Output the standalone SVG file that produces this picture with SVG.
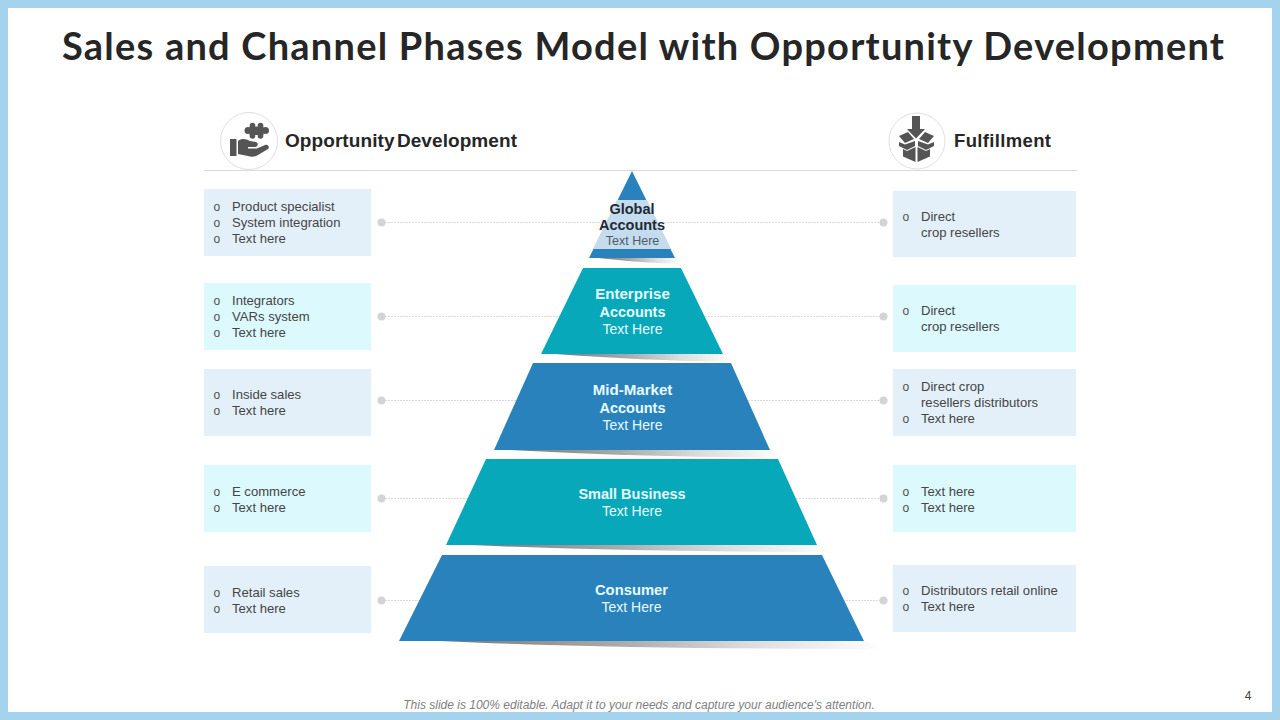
<svg xmlns="http://www.w3.org/2000/svg" width="1280" height="720" viewBox="0 0 1280 720">
<style>
text{font-family:"Liberation Sans",Arial,sans-serif}
.t{font-size:13.1px;fill:#454545}
.o{font-size:12px;fill:#505050}
.n{font-size:14.5px;font-weight:bold;fill:#e6fbff;text-anchor:middle}
.w{font-size:15.1px}
.s{font-size:14px;fill:#e6fbff;text-anchor:middle}
.h{font-size:18.5px;font-weight:bold;fill:#262626}
.c{stroke:#d9d9d9;stroke-width:1;stroke-dasharray:2 1;fill:none}
.d{fill:#d4d4d4}
.blue{fill:#e3f0f9}.cyan{fill:#dcf9fe}
.ic{fill:#555}
.ring{fill:#fff;stroke:#e0e0e0;stroke-width:1}
.sh{fill:url(#sh)}
</style>
<defs>
<linearGradient id="sh" x1="0" x2="1" y1="0" y2="0">
<stop offset="0" stop-color="#777"/><stop offset=".4" stop-color="#aaa"/><stop offset=".7" stop-color="#ddd"/><stop offset="1" stop-color="#fff"/>
</linearGradient>
</defs>
<rect width="1280" height="720" fill="#fff"/>
<rect x="4" y="4" width="1272" height="712" fill="none" stroke="#a5d2ec" stroke-width="8"/>
<text id="title" x="62" y="60" style="font-family:Lato,sans-serif;font-size:38px;font-weight:700;fill:#262626" textLength="1162">Sales and Channel Phases Model with Opportunity Development</text>
<line x1="204" y1="170.500" x2="1077" y2="170.500" stroke="#d9d9d9"/>
<g id="connectors">
<path class="c" d="M382 222.500H600M664 222.500H884M382 316.500H560M705 316.500H884M382 400.500H520M745 400.500H884M382 498.500H475M790 498.500H884M382 600.500H425M840 600.500H884"/>
<g class="d"><circle cx="381.500" cy="222.500" r="4"/><circle cx="883.500" cy="222.500" r="4"/><circle cx="381.500" cy="316.500" r="4"/><circle cx="883.500" cy="316.500" r="4"/><circle cx="381.500" cy="400.500" r="4"/><circle cx="883.500" cy="400.500" r="4"/><circle cx="381.500" cy="498.500" r="4"/><circle cx="883.500" cy="498.500" r="4"/><circle cx="381.500" cy="600.500" r="4"/><circle cx="883.500" cy="600.500" r="4"/></g>
</g>
<g id="head-left">
<circle class="ring" cx="249" cy="141" r="28.500"/>
<g class="ic">
<rect x="230" y="139" width="6.500" height="17"/>
<path d="M238 141C242 138 246 139 250 141L256 142C259 143 258 147 255 147L248 147V148.500L257 148.500L265 145C268 144 270 147 268 149L258 155C255 157 251 157 248 156L238 154Z"/>
<rect x="249.500" y="126.500" width="14" height="8.500"/>
<circle cx="248" cy="130.500" r="3.500"/><circle cx="265.500" cy="130.500" r="3.500"/><circle cx="252.500" cy="125.500" r="2.800"/><circle cx="260.500" cy="125.500" r="2.800"/><circle cx="252.500" cy="136" r="2.800"/><circle cx="260.500" cy="136" r="2.800"/>
</g>
<text class="h" x="285" y="147" textLength="232" style="word-spacing:-3px;font-size:19px">Opportunity Development</text>
</g>
<g id="head-right">
<circle class="ring" cx="917" cy="141" r="28"/>
<path class="ic" d="M912 116h8v13h5l-9 9.500-9-9.500h5zM899 136L908 132L914 139L905 143zM934 136L925 132L919 139L928 143zM899 142L905 144.500L915 141V146L907 150L899 146zM934 142L928 144.500L918 141V146L926 150L934 146zM903 149L907 151L915.500 147V162L903 156.500zM930 149L926 151L917.500 147V162L930 156.500z"/>
<text class="h" x="954" y="147" textLength="97">Fulfillment</text>
</g>
<g id="pyramid">
<g id="tier-global">
<path d="M632 171L675 258H589Z" fill="#2a82bd"/>
<path d="M617 200H647L671 249H593Z" fill="#c4dcee"/>
<path d="M598 258H675L680 264C650 263 625 261 598 258Z" class="sh"/>
<text class="n" x="632" y="214" style="fill:#1f2a36">Global</text>
<text class="n" x="632" y="230" style="fill:#1f2a36">Accounts</text>
<text class="s" x="632.500" y="245" style="font-size:12.500px;fill:#505a66">Text Here</text>
</g>
<g id="tier-enterprise">
<path d="M583 268H681L723 354H541Z" fill="#07a8ba"/>
<path d="M555 354H723L735 362C670 361 610 358 555 354Z" class="sh"/>
<text class="n w" x="632.500" y="299">Enterprise</text>
<text class="n" x="632.500" y="317">Accounts</text>
<text class="s" x="632.500" y="334">Text Here</text>
</g>
<g id="tier-midmarket">
<path d="M533 363H731L770 450H494Z" fill="#2a82bd"/>
<path d="M510 450H770L785 458C690 457 600 455 510 450Z" class="sh"/>
<text class="n w" x="632.500" y="395">Mid-Market</text>
<text class="n" x="632.500" y="413">Accounts</text>
<text class="s" x="632.500" y="430">Text Here</text>
</g>
<g id="tier-small">
<path d="M486 459H778L817 545H446Z" fill="#07a8ba"/>
<path d="M470 545H817L835 552C710 552 580 550 470 545Z" class="sh"/>
<text class="n" x="632" y="499">Small Business</text>
<text class="s" x="632" y="516">Text Here</text>
</g>
<g id="tier-consumer">
<path d="M442 555H822L864 641H399Z" fill="#2a82bd"/>
<path d="M440 641H864L885 649C720 649 570 647 440 641Z" class="sh"/>
<text class="n" x="631.500" y="595" style="font-size:14.800px">Consumer</text>
<text class="s" x="631.500" y="612">Text Here</text>
</g>
</g>
<g id="box-l1"><rect class="blue" x="204" y="189" width="167" height="67"/><text class="o" x="213.500" y="211">o</text><text class="o" x="213.500" y="227">o</text><text class="o" x="213.500" y="243">o</text><text class="t" x="232" y="211">Product specialist</text><text class="t" x="232" y="227">System integration</text><text class="t" x="232" y="243">Text here</text></g>
<g id="box-l2"><rect class="cyan" x="204" y="283" width="167" height="67"/><text class="o" x="213.500" y="305">o</text><text class="o" x="213.500" y="321">o</text><text class="o" x="213.500" y="337">o</text><text class="t" x="232" y="305">Integrators</text><text class="t" x="232" y="321">VARs system</text><text class="t" x="232" y="337">Text here</text></g>
<g id="box-l3"><rect class="blue" x="204" y="369" width="167" height="67"/><text class="o" x="213.500" y="399">o</text><text class="o" x="213.500" y="415">o</text><text class="t" x="232" y="399">Inside sales</text><text class="t" x="232" y="415">Text here</text></g>
<g id="box-l4"><rect class="cyan" x="204" y="465" width="167" height="67"/><text class="o" x="213.500" y="496">o</text><text class="o" x="213.500" y="512">o</text><text class="t" x="232" y="496">E commerce</text><text class="t" x="232" y="512">Text here</text></g>
<g id="box-l5"><rect class="blue" x="204" y="566" width="167" height="67"/><text class="o" x="213.500" y="597">o</text><text class="o" x="213.500" y="613">o</text><text class="t" x="232" y="597">Retail sales</text><text class="t" x="232" y="613">Text here</text></g>
<g id="box-r1"><rect class="blue" x="893" y="191" width="183" height="66"/><text class="o" x="902.500" y="221">o</text><text class="t" x="921" y="221">Direct</text><text class="t" x="921" y="237">crop resellers</text></g>
<g id="box-r2"><rect class="cyan" x="893" y="285" width="183" height="67"/><text class="o" x="902.500" y="315">o</text><text class="t" x="921" y="315">Direct</text><text class="t" x="921" y="331">crop resellers</text></g>
<g id="box-r3"><rect class="blue" x="893" y="369" width="183" height="67"/><text class="o" x="902.500" y="391">o</text><text class="t" x="921" y="391">Direct crop</text><text class="t" x="921" y="407">resellers distributors</text><text class="o" x="902.500" y="423">o</text><text class="t" x="921" y="423">Text here</text></g>
<g id="box-r4"><rect class="cyan" x="893" y="465" width="183" height="67"/><text class="o" x="902.500" y="496">o</text><text class="o" x="902.500" y="512">o</text><text class="t" x="921" y="496">Text here</text><text class="t" x="921" y="512">Text here</text></g>
<g id="box-r5"><rect class="blue" x="893" y="565" width="183" height="67"/><text class="o" x="902.500" y="595">o</text><text class="o" x="902.500" y="611">o</text><text class="t" x="921" y="595">Distributors retail online</text><text class="t" x="921" y="611">Text here</text></g>
<text x="639" y="709" text-anchor="middle" style="font-size:12px;font-style:italic;fill:#7f7f7f">This slide is 100% editable. Adapt it to your needs and capture your audience's attention.</text>
<text x="1248" y="700" text-anchor="middle" style="font-size:12px;fill:#404040">4</text>
</svg>
